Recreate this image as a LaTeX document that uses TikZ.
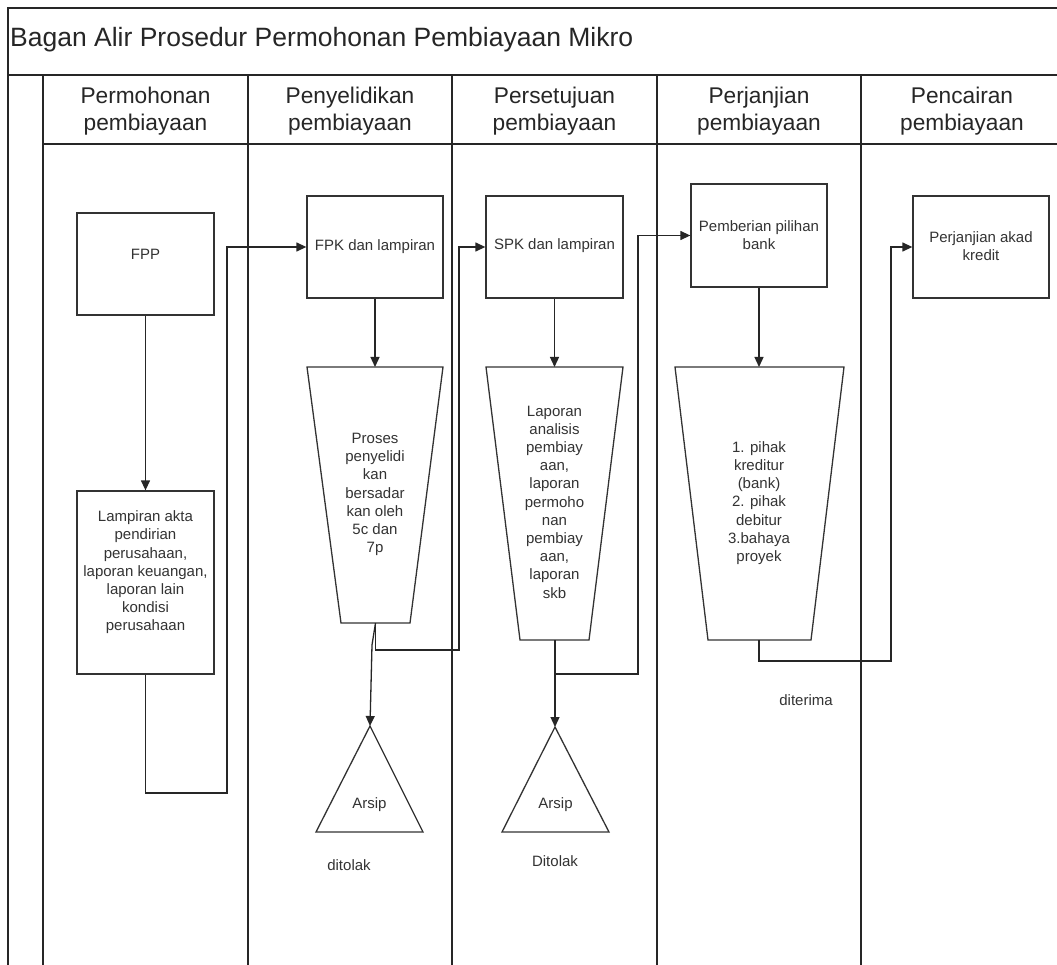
\documentclass[tikz,border=0pt]{standalone}
\usepackage{fontspec}
\setmainfont{Liberation Sans}
\usetikzlibrary{arrows.meta}
\begin{document}
\begin{tikzpicture}[x=1pt,y=-1pt,
  frame/.style={line width=1.8pt, draw=black!85},
  lane/.style={line width=1.6pt, draw=black!85},
  box/.style={draw=black!80, line width=1.3pt, rectangle, inner sep=0pt},
  shp/.style={draw=black!80, line width=1.3pt, line join=miter},
  txt/.style={align=center, font=\fontsize{15}{18.2}\selectfont, text=black!80, inner sep=0pt},
  hdr/.style={align=center, font=\fontsize{22.7}{27}\selectfont, text=black!85, inner sep=0pt},
  flow/.style={draw=black!85, line width=1.3pt, -{Triangle[length=10pt,width=9pt]}},
]
\useasboundingbox (0,0) rectangle (1057,965);
\fill[white] (0,0) rectangle (1057,965);

% frame and swimlanes
\draw[frame] (1057,8) -- (8,8) -- (8,965);
\draw[frame] (8,75) -- (1057,75);
\draw[lane] (43,144) -- (1057,144);
\foreach \x in {43,248,452,657,861} \draw[lane] (\x,75) -- (\x,965);

\node[anchor=base west, font=\fontsize{26.5}{30}\selectfont, text=black!85, inner sep=0pt] (title) at (10,47) {Bagan Alir Prosedur Permohonan Pembiayaan Mikro};

\node[hdr] (h1) at (145.5,111) {Permohonan\\pembiayaan};
\node[hdr] (h2) at (350,111) {Penyelidikan\\pembiayaan};
\node[hdr] (h3) at (554.5,111) {Persetujuan\\pembiayaan};
\node[hdr] (h4) at (759,111) {Perjanjian\\pembiayaan};
\node[hdr] (h5) at (962,111) {Pencairan\\pembiayaan};

% boxes
\node[box, minimum width=137pt, minimum height=102pt] (fpp) at (145.5,264) {};
\node[txt] (fpptxt) at (145.5,254) {FPP};
\node[box, minimum width=137pt, minimum height=183pt] (lamp) at (145.5,582.5) {};
\node[txt] (lamptxt) at (145.5,572.5) {Lampiran akta\\pendirian\\perusahaan,\\laporan keuangan,\\laporan lain\\kondisi\\perusahaan};
\node[box, minimum width=136pt, minimum height=102pt] (fpk) at (375,247) {};
\node[txt] (fpktxt) at (375,247) {FPK dan lampiran};
\node[box, minimum width=137pt, minimum height=102pt] (spk) at (554.5,247) {};
\node[txt] (spktxt) at (554.5,246) {SPK dan lampiran};
\node[box, minimum width=136pt, minimum height=103pt] (pem) at (759,235.5) {};
\node[txt] (pemtxt) at (759,235) {Pemberian pilihan\\bank};
\node[box, minimum width=136pt, minimum height=102pt] (akad) at (981,247) {};
\node[txt] (akadtxt) at (981,246) {Perjanjian akad\\kredit};

% manual operations (trapezoids)
\draw[shp] (307,367) -- (443,367) -- (410,623) -- (341,623) -- cycle;
\coordinate (t1top) at (375,367);
\coordinate (t1bot) at (375.5,623);
\node[txt] (t1) at (375,494.5) {Proses\\penyelidi\\kan\\bersadar\\kan oleh\\5c dan\\7p};

\draw[shp] (486,367) -- (623,367) -- (589,640) -- (520,640) -- cycle;
\coordinate (t2top) at (554.5,367);
\coordinate (t2bot) at (555,640);
\node[txt] (t2) at (554.5,502) {Laporan\\analisis\\pembiay\\aan,\\laporan\\permoho\\nan\\pembiay\\aan,\\laporan\\skb};

\draw[shp] (675,367) -- (844,367) -- (811,640) -- (708,640) -- cycle;
\coordinate (t3top) at (759,367);
\coordinate (t3bot) at (759,640);
\node[txt] (t3) at (759,503) {1. pihak\\kreditur\\(bank)\\2. pihak\\debitur\\3.bahaya\\proyek};

% archives (triangles)
\draw[shp] (370,726) -- (423,832) -- (316,832) -- cycle;
\coordinate (a1top) at (370,726);
\node[txt] (a1) at (369.5,805) {Arsip};
\draw[shp] (555,727) -- (609,832) -- (502,832) -- cycle;
\coordinate (a2top) at (555,727);
\node[txt] (a2) at (555.5,805) {Arsip};

% labels
\node[txt] (rej1) at (349,865) {ditolak};
\node[txt] (rej2) at (555,861) {Ditolak};
\node[txt] (acc) at (806,700) {diterima};

% connectors
\coordinate (c1) at (227,793);
\coordinate (c2) at (459,650);
\coordinate (c3) at (638,674);
\coordinate (c4) at (891,661);
\coordinate (k1) at (372,645);

\draw[flow] (fpp.south) -- (lamp.north);
\draw[flow] (lamp.south) |- (c1) |- (fpk.west);
\draw[flow] (fpk.south) -- (t1top);
\draw[flow] (t1bot) |- (c2) |- (spk.west);
\draw[flow] (t1bot) -- (k1) -- (a1top);
\draw[flow] (spk.south) -- (t2top);
\draw[flow] (t2bot) |- (c3) |- (pem.west);
\draw[flow] (t2bot) -- (a2top);
\draw[flow] (pem.south) -- (t3top);
\draw[flow] (t3bot) |- (c4) |- (akad.west);
\end{tikzpicture}
\end{document}
